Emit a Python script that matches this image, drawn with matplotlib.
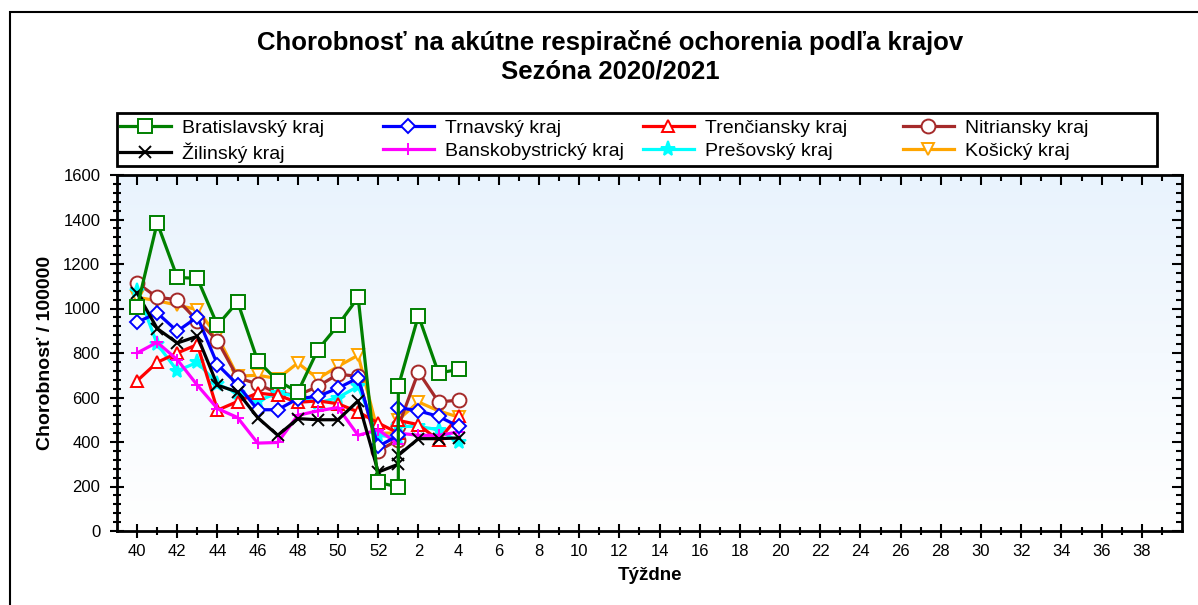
import numpy as np
import matplotlib
matplotlib.use("Agg")
import matplotlib.pyplot as plt
from matplotlib.patches import Rectangle
from matplotlib.lines import Line2D

plt.rcParams['font.family'] = ['Liberation Sans', 'DejaVu Sans']

# weeks of season 2020/2021 (53 and 1 share one slot on the axis)
weeks = [40, 41, 42, 43, 44, 45, 46, 47, 48, 49, 50, 51, 52, 53, 1, 2, 3, 4]
tick_labels = ['40', '42', '44', '46', '48', '50', '52', '2', '4', '6', '8', '10',
               '12', '14', '16', '18', '20', '22', '24', '26', '28', '30', '32',
               '34', '36', '38']

bratislavsky = [1005, 1385, 1140, 1135, 925, 1030, 765, 675, 625, 815, 925, 1050, 218, 198, 650, 968, 710, 726]
trnavsky = [938, 980, 898, 962, 748, 658, 545, 545, 595, 605, 642, 688, 380, 430, 555, 540, 515, 470]
trenciansky = [675, 758, 800, 838, 543, 582, 620, 610, 578, 585, 572, 535, 485, 440, 497, 478, 408, 516]
nitriansky = [1115, 1050, 1040, 945, 855, 690, 660, 620, 610, 650, 705, 695, 360, 410, 470, 715, 580, 588]
zilinsky = [1070, 910, 845, 875, 655, 625, 510, 430, 505, 500, 500, 585, 265, 300, 340, 415, 415, 418]
banskobystricky = [800, 848, 770, 655, 550, 510, 395, 398, 520, 540, 555, 430, 455, 390, 440, 430, 430, 445]
presovsky = [1080, 840, 720, 758, 660, 620, 585, 620, 605, 575, 600, 650, 430, 420, 470, 470, 455, 400]
kosicky = [1050, 1035, 1015, 995, 875, 696, 700, 685, 755, 685, 740, 790, 440, 440, 500, 580, 540, 512]


def week_pos(w):
    # position on axis: 40 -> 0 ... 52 -> 12, 53 and 1 -> 13, 2 -> 14 ...
    if w >= 40:
        return min(w - 40, 13)
    return w + 12


x = [week_pos(w) for w in weeks]

# name, values, color, marker, filled marker?
series = [
    ('Bratislavský kraj', bratislavsky, '#008000', 's', True),
    ('Žilinský kraj', zilinsky, '#000000', 'x', False),
    ('Trnavský kraj', trnavsky, '#0000ff', 'D', True),
    ('Banskobystrický kraj', banskobystricky, '#ff00ff', '+', False),
    ('Trenčiansky kraj', trenciansky, '#ff0000', '^', True),
    ('Prešovský kraj', presovsky, '#00ffff', '*', False),
    ('Nitriansky kraj', nitriansky, '#a52a2a', 'o', True),
    ('Košický kraj', kosicky, '#ffa500', 'v', True),
]

fig = plt.figure(figsize=(11.98, 6.05), dpi=100)
W, H = 1198, 605
ax = fig.add_axes([117 / W, 1 - 531 / H, (1182 - 117) / W, (531 - 175) / H])

# light blue gradient background
grad = np.linspace(0, 1, 256).reshape(-1, 1)
top = np.array([233, 243, 253]) / 255
bot = np.array([255, 255, 255]) / 255
img = top + (bot - top) * grad[:, :, None]
ax.imshow(img, extent=[-1, 52, 0, 1600], aspect='auto', origin='upper', zorder=0)

handles = []
for i, (name, vals, col, mk, filled) in enumerate(series):
    ms = 10 if mk in ('s', 'o') else 9
    if mk == 'D':
        ms = 7
    if mk == '*':
        ms = 11
    kw = dict(color=col, lw=2.3, marker=mk, markersize=ms, markeredgewidth=1.4,
              markeredgecolor=col, markerfacecolor='white' if filled else col)
    ax.plot(x, vals, zorder=10 - i, **kw)
    handles.append(Line2D([], [], **kw))

ax.set_xlim(-1, 52)
ax.set_ylim(0, 1600)
ax.set_xticks(np.arange(0, 51, 2))
ax.set_xticklabels(tick_labels)
ax.set_xticks(np.arange(1, 52, 2), minor=True)
ax.set_yticks(np.arange(0, 1601, 200))
ax.set_yticks(np.arange(0, 1601, 40), minor=True)
ax.tick_params(which='major', direction='inout', length=10, width=1.5, labelsize=12)
ax.tick_params(which='minor', direction='inout', length=6, width=1.5)
ax.tick_params(axis='x', which='major', pad=4)
ax.tick_params(axis='y', which='major', pad=7)
for sp in ax.spines.values():
    sp.set_linewidth(2)

# inward ticks on top and right
secx = ax.secondary_xaxis('top')
secx.set_xticks(np.arange(0, 51, 2))
secx.set_xticks(np.arange(1, 52, 2), minor=True)
secx.tick_params(which='major', direction='in', length=7, width=1.5, labeltop=False)
secx.tick_params(which='minor', direction='in', length=4, width=1.5)
secy = ax.secondary_yaxis('right')
secy.set_yticks(np.arange(0, 1601, 200))
secy.set_yticks(np.arange(0, 1601, 40), minor=True)
secy.tick_params(which='major', direction='in', length=7, width=1.5, labelright=False)
secy.tick_params(which='minor', direction='in', length=4, width=1.5)

ax.set_xlabel('Týždne', fontsize=13.5, fontweight='bold')
ax.xaxis.set_label_coords(0.5, -0.124)
ax.xaxis.label.set_va('center')
ax.set_ylabel('Chorobnosť / 100000', fontsize=14, fontweight='bold')
ax.yaxis.set_label_coords(-0.0676, 0.5)
ax.yaxis.label.set_va('center')

fig.text(610 / W, 1 - 57 / H, 'Chorobnosť na akútne respiračné ochorenia podľa krajov\nSezóna 2020/2021',
         ha='center', va='center', fontsize=18.5, fontweight='bold', linespacing=1.22)

# legend: 4 columns, each 2 rows, inside one frame
col_x = [120, 383, 643, 903]
for c in range(4):
    hs = handles[2 * c:2 * c + 2]
    labs = [series[2 * c][0], series[2 * c + 1][0]]
    fig.legend(hs, labs, loc='upper left', bbox_to_anchor=(col_x[c] / W, 1 - 119 / H),
               frameon=False, fontsize=14, handlelength=2.6, handletextpad=0.6,
               borderpad=0, borderaxespad=0, labelspacing=0.3, numpoints=1)
fig.patches.append(Rectangle((117 / W, 1 - 166 / H), 1040 / W, 53 / H, transform=fig.transFigure,
                             fill=False, edgecolor='black', lw=2))

# outer frame line (left and top)
fig.patches.append(Rectangle((10 / W, -0.1), 1.2, 1.1 - 12 / H, transform=fig.transFigure,
                             fill=False, edgecolor='black', lw=1.5))

fig.savefig('out.png', dpi=100)
